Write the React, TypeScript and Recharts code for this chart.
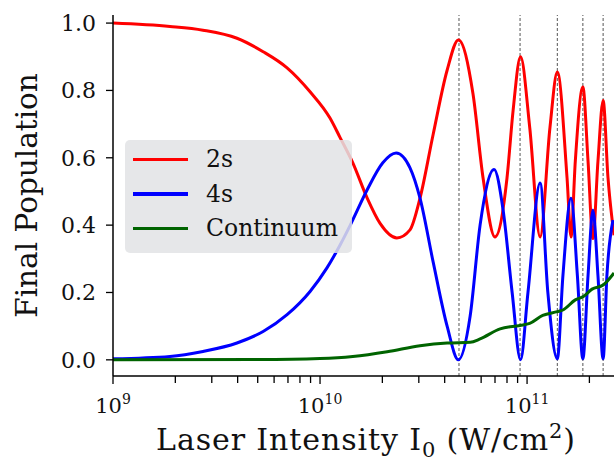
import React from 'react';
import {
  LineChart,
  Line,
  XAxis,
  YAxis,
  ReferenceLine,
  Legend,
  Label,
} from 'recharts';

// 2s population
const x2s = [
  1e9, 1.885e9, 2.72e9, 3.97e9, 5.31e9, 6.93e9, 8.95e9, 1.117e10, 1.25e10,
  1.44e10, 1.69e10, 1.95e10, 2.35e10, 2.72e10, 3.04e10, 3.52e10, 4.11e10, 4.66e10, 5.48e10,
  6.13e10, 7.0e10, 8.0e10, 8.56e10, 9.3e10, 1.03e11, 1.156e11, 1.29e11, 1.4e11, 1.56e11,
  1.63e11, 1.71e11, 1.86e11, 1.97e11, 2.08e11, 2.2e11, 2.33e11, 2.46e11, 2.63e11,
];
const y2s = [
  1.0, 0.99, 0.979, 0.955, 0.915, 0.867, 0.796, 0.718, 0.66,
  0.585, 0.48, 0.405, 0.362, 0.386, 0.48, 0.67, 0.86, 0.95, 0.79,
  0.54, 0.365, 0.54, 0.74, 0.9, 0.69, 0.365, 0.69, 0.855, 0.54,
  0.365, 0.59, 0.81, 0.59, 0.36, 0.59, 0.77, 0.54, 0.37,
];

// 4s population
const x4s = [
  1e9, 1.885e9, 2.72e9, 3.97e9, 5.31e9, 6.93e9, 8.95e9, 1.08e10, 1.25e10, 1.4e10,
  1.69e10, 2.01e10, 2.33e10, 2.72e10, 3.04e10, 3.52e10, 4.11e10, 4.66e10, 5.31e10, 5.93e10,
  6.93e10, 7.66e10, 8.47e10, 9.3e10, 1.01e11, 1.156e11, 1.26e11, 1.4e11, 1.49e11, 1.63e11,
  1.75e11, 1.86e11, 1.97e11, 2.08e11, 2.2e11, 2.33e11, 2.43e11, 2.6e11,
];
const y4s = [
  0.003, 0.01, 0.025, 0.05, 0.084, 0.134, 0.203, 0.273, 0.341, 0.4,
  0.505, 0.585, 0.614, 0.57, 0.48, 0.29, 0.1, 0.0, 0.13, 0.4,
  0.565, 0.445, 0.2, 0.0, 0.2, 0.525, 0.2, 0.003, 0.25, 0.48,
  0.25, 0.003, 0.25, 0.445, 0.25, 0.003, 0.25, 0.415,
];

// continuum
const xCont = [
  1e9, 5e9, 1e10, 1.44e10, 2.11e10, 3.04e10, 4.11e10, 5.31e10, 5.93e10, 7.41e10,
  9.25e10, 1.03e11, 1.19e11, 1.4e11, 1.49e11, 1.71e11, 1.87e11, 2.06e11, 2.33e11, 2.63e11,
];
const yCont = [
  0.0, 0.001, 0.004, 0.01, 0.024, 0.042, 0.05, 0.052, 0.062, 0.092,
  0.102, 0.108, 0.132, 0.143, 0.148, 0.178, 0.188, 0.21, 0.222, 0.258,
];

const resonances = [4.69e10, 9.25e10, 1.4e11, 1.86e11, 2.33e11];

const xTicks = [
  1e9, 2e9, 3e9, 4e9, 5e9, 6e9, 7e9, 8e9, 9e9,
  1e10, 2e10, 3e10, 4e10, 5e10, 6e10, 7e10, 8e10, 9e10,
  1e11, 2e11,
];
const yTicks = [0, 0.2, 0.4, 0.6, 0.8, 1.0];

const FONT = '"DejaVu Serif", serif';

const zip = (xs: number[], ys: number[]) => xs.map((x, i) => ({ x, y: ys[i] }));

function XTick({ x, y, payload }: any) {
  const lg = Math.log10(payload.value);
  const exp = Math.round(lg);
  const major = Math.abs(lg - exp) < 1e-6;
  return (
    <g>
      <line x1={x} x2={x} y1={y} y2={y + (major ? 8 : 7)} stroke="#000" strokeWidth={1.3} />
      {major && (
        <text x={x} y={y + 37} textAnchor="middle" fontFamily={FONT} fontSize={21} fill="#111">
          <tspan>10</tspan>
          <tspan dy={-9} fontSize={14}>{exp}</tspan>
        </text>
      )}
    </g>
  );
}

function YTick({ x, y, payload }: any) {
  return (
    <g>
      <line x1={x + 10} x2={x + 17} y1={y} y2={y} stroke="#000" strokeWidth={1.3} />
      <text x={x} y={y + 8} textAnchor="end" fontFamily={FONT} fontSize={22} fill="#111">
        {payload.value.toFixed(1)}
      </text>
    </g>
  );
}

function XLabel({ viewBox }: any) {
  const cx = viewBox.x + viewBox.width / 2;
  return (
    <text
      x={cx}
      y={viewBox.y + 74}
      textAnchor="middle"
      fontFamily={FONT}
      fontSize={30}
      letterSpacing={0.9}
      fill="#111"
    >
      <tspan>Laser Intensity I</tspan>
      <tspan dy={7} fontSize={21}>0</tspan>
      <tspan dy={-7}> (W/cm</tspan>
      <tspan dy={-12} fontSize={21}>2</tspan>
      <tspan dy={12}>)</tspan>
    </text>
  );
}

function YLabel({ viewBox }: any) {
  const cy = viewBox.y + viewBox.height / 2;
  const cx = viewBox.x + 37;
  return (
    <text
      x={cx}
      y={cy}
      transform={`rotate(-90 ${cx} ${cy})`}
      textAnchor="middle"
      fontFamily={FONT}
      fontSize={29.5}
      fill="#111"
    >
      Final Population
    </text>
  );
}

function LegendBox({ payload }: any) {
  return (
    <div
      style={{
        width: 227,
        height: 113,
        boxSizing: 'border-box',
        paddingTop: 2,
        background: 'rgba(226,227,229,0.85)',
        borderRadius: 5,
      }}
    >
      {(payload || []).map((p: any) => (
        <div key={p.value} style={{ height: 34.5, position: 'relative' }}>
          <div
            style={{
              position: 'absolute',
              left: 8,
              width: 55,
              top: 15.5,
              height: 3.5,
              background: p.color,
            }}
          />
          <span
            style={{
              position: 'absolute',
              left: 81,
              top: 0,
              lineHeight: '34.5px',
              fontFamily: FONT,
              fontSize: 23.5,
              color: '#111',
            }}
          >
            {p.value}
          </span>
        </div>
      ))}
    </div>
  );
}

export default function App() {
  return (
    <div
      style={{
        position: 'absolute',
        left: 0,
        top: 0,
        width: 614,
        height: 462,
        overflow: 'hidden',
        background: '#fff',
      }}
    >
      <LineChart width={619} height={462} margin={{ top: 15, right: 0, left: 0, bottom: 0 }}>
        <XAxis
          dataKey="x"
          type="number"
          scale="log"
          domain={[1e9, 2.78e11]}
          allowDataOverflow
          ticks={xTicks}
          interval={0}
          tick={<XTick />}
          tickLine={false}
          tickSize={0}
          tickMargin={0}
          height={86}
          axisLine={{ stroke: '#000', strokeWidth: 1.5 }}
        >
          <Label content={<XLabel />} />
        </XAxis>
        <XAxis
          xAxisId="top"
          orientation="top"
          dataKey="x"
          type="number"
          scale="log"
          domain={[1e9, 2.78e11]}
          allowDataOverflow
          tick={false}
          tickLine={false}
          height={0}
          axisLine={{ stroke: '#000', strokeWidth: 1.5 }}
        />
        <YAxis
          type="number"
          domain={[-0.048, 1.024]}
          allowDataOverflow
          ticks={yTicks}
          interval={0}
          tick={<YTick />}
          tickLine={false}
          tickSize={7}
          tickMargin={10}
          width={113}
          axisLine={{ stroke: '#000', strokeWidth: 1.5 }}
        >
          <Label content={<YLabel />} />
        </YAxis>
        {resonances.map((r) => (
          <ReferenceLine key={r} x={r} stroke="#555" strokeWidth={1} strokeDasharray="3 2" />
        ))}
        <Line
          data={zip(x2s, y2s)}
          dataKey="y"
          name="2s"
          type="monotone"
          stroke="#ff0000"
          strokeWidth={3}
          dot={false}
          isAnimationActive={false}
        />
        <Line
          data={zip(x4s, y4s)}
          dataKey="y"
          name="4s"
          type="monotone"
          stroke="#0000ff"
          strokeWidth={3}
          dot={false}
          isAnimationActive={false}
        />
        <Line
          data={zip(xCont, yCont)}
          dataKey="y"
          name="Continuum"
          type="monotone"
          stroke="#006400"
          strokeWidth={3}
          dot={false}
          isAnimationActive={false}
        />
        <Legend
          layout="vertical"
          align="center"
          verticalAlign="middle"
          content={<LegendBox />}
          wrapperStyle={{ left: 125, top: 140, width: 227, height: 113 }}
        />
      </LineChart>
    </div>
  );
}
